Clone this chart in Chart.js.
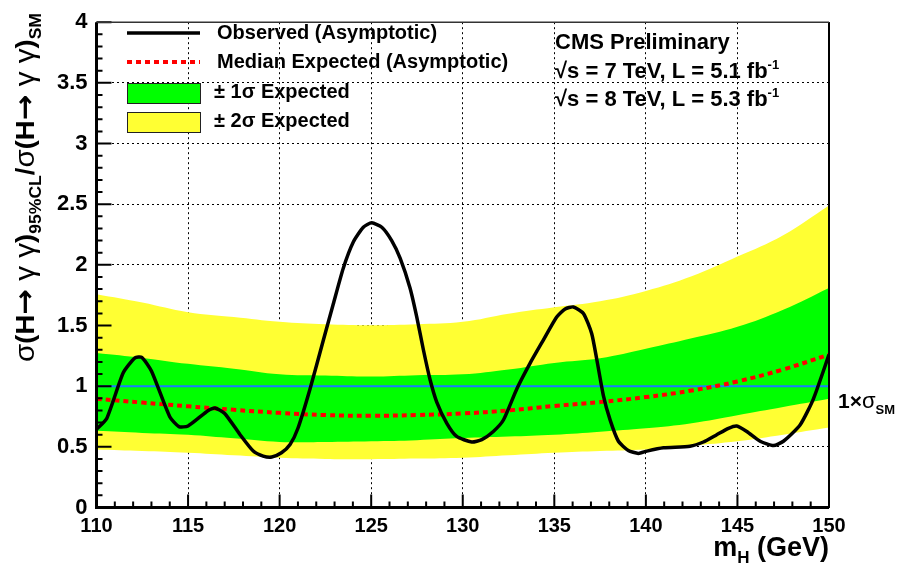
<!DOCTYPE html>
<html>
<head>
<meta charset="utf-8">
<script src="https://cdn.jsdelivr.net/npm/chart.js@4.4.1/dist/chart.umd.min.js"></script>
<style>
  body { margin: 0; background: #fff; }
  canvas { display: block; }
</style>
</head>
<body>
<canvas id="limitChart" width="901" height="564"></canvas>
<script>
// observed limit
const observedMass = [110.0, 110.56, 111.46, 112.1, 112.47, 113.0, 114.0, 114.5, 115.0, 116.1, 116.47, 117.0, 117.84, 118.56, 119.1, 119.57, 120.1, 120.57, 121.0, 121.66, 122.39, 122.93, 123.48, 124.03, 124.57, 125.03, 125.58, 126.12, 126.58, 127.12, 127.49, 127.85, 128.21, 128.58, 129.13, 129.67, 130.49, 131.04, 131.67, 132.22, 132.95, 133.68, 134.4, 135.13, 135.59, 136.04, 136.59, 137.04, 137.32, 137.68, 138.05, 138.5, 139.04, 139.59, 140.05, 140.96, 142.41, 143.14, 143.87, 144.51, 144.96, 145.51, 146.24, 146.97, 147.51, 148.42, 149.15, 150.0];
const observedLimit = [0.645, 0.734, 1.11, 1.233, 1.238, 1.125, 0.748, 0.667, 0.672, 0.80, 0.82, 0.775, 0.60, 0.465, 0.424, 0.416, 0.451, 0.519, 0.653, 0.977, 1.38, 1.677, 1.974, 2.19, 2.31, 2.346, 2.31, 2.20, 2.055, 1.81, 1.57, 1.30, 1.057, 0.869, 0.694, 0.586, 0.54, 0.56, 0.627, 0.721, 0.977, 1.19, 1.38, 1.57, 1.637, 1.653, 1.60, 1.435, 1.22, 0.923, 0.72, 0.546, 0.47, 0.446, 0.465, 0.492, 0.505, 0.54, 0.60, 0.653, 0.672, 0.627, 0.546, 0.51, 0.546, 0.68, 0.896, 1.26];

// expected limit and bands
const expMass = [110, 112.5, 115, 117.5, 120, 122.5, 125, 127.5, 130, 132.5, 135, 137.5, 140, 142.5, 145, 147.5, 150];
const expMedian = [0.896, 0.865, 0.834, 0.805, 0.78, 0.762, 0.756, 0.762, 0.775, 0.80, 0.837, 0.869, 0.91, 0.964, 1.039, 1.138, 1.26];
const oneSigmaHi = [1.273, 1.233, 1.184, 1.144, 1.098, 1.087, 1.079, 1.09, 1.098, 1.138, 1.192, 1.23, 1.308, 1.394, 1.489, 1.63, 1.81];
const oneSigmaLo = [0.632, 0.615, 0.60, 0.57, 0.54, 0.54, 0.546, 0.555, 0.572, 0.585, 0.60, 0.625, 0.653, 0.695, 0.761, 0.828, 0.896];
const twoSigmaHi = [1.758, 1.69, 1.61, 1.57, 1.53, 1.51, 1.502, 1.51, 1.53, 1.597, 1.65, 1.70, 1.785, 1.906, 2.068, 2.245, 2.49];
const twoSigmaLo = [0.478, 0.465, 0.451, 0.43, 0.41, 0.40, 0.398, 0.403, 0.41, 0.43, 0.451, 0.465, 0.478, 0.51, 0.546, 0.60, 0.659];

// SM reference line
const smMass = [110, 150];
const smValue = [1, 1];

const FAM = "'Liberation Sans', Arial, Helvetica, sans-serif";

function pts(xs, ys) {
  return xs.map((x, i) => ({ x: x, y: ys[i] }));
}

function partsWidth(ctx, parts) {
  let total = 0;
  parts.forEach(p => { ctx.font = p[1]; total += ctx.measureText(p[0]).width; });
  return total;
}

// draw a run of text pieces [text, font, dy]
function drawParts(ctx, parts, x, y, align) {
  const total = partsWidth(ctx, parts);
  let cx = align === 'right' ? x - total : x;
  parts.forEach(p => {
    ctx.font = p[1];
    ctx.fillText(p[0], cx, y + (p[2] || 0));
    cx += ctx.measureText(p[0]).width;
  });
  return total;
}

const decorations = {
  id: 'decorations',
  afterDraw(chart) {
    const ctx = chart.ctx;
    const area = chart.chartArea;
    const xs = chart.scales.x, ys = chart.scales.y;
    ctx.save();

    // inward ticks
    ctx.strokeStyle = '#000';
    ctx.lineWidth = 2;
    ctx.beginPath();
    for (let m = 110; m <= 150; m++) {
      const px = xs.getPixelForValue(m);
      const len = m % 5 === 0 ? 13 : 6;
      ctx.moveTo(px, area.bottom);
      ctx.lineTo(px, area.bottom - len);
    }
    for (let k = 0; k <= 40; k++) {
      const py = ys.getPixelForValue(k / 10);
      const len = k % 5 === 0 ? 15 : 6;
      ctx.moveTo(area.left, py);
      ctx.lineTo(area.left + len, py);
    }
    ctx.stroke();

    // frame
    ctx.lineWidth = 3;
    ctx.beginPath();
    ctx.moveTo(area.left, area.top);
    ctx.lineTo(area.left, area.bottom);
    ctx.lineTo(area.right, area.bottom);
    ctx.stroke();
    ctx.lineWidth = 2;
    ctx.beginPath();
    ctx.moveTo(area.right, area.bottom);
    ctx.lineTo(area.right, area.top);
    ctx.stroke();
    ctx.lineWidth = 1.5;
    ctx.strokeStyle = '#333';
    ctx.beginPath();
    ctx.moveTo(area.left, area.top);
    ctx.lineTo(area.right, area.top);
    ctx.stroke();

    // legend
    ctx.strokeStyle = '#000';
    ctx.lineWidth = 3.5;
    ctx.beginPath();
    ctx.moveTo(127, 33);
    ctx.lineTo(200, 33);
    ctx.stroke();
    ctx.strokeStyle = '#ff0000';
    ctx.lineWidth = 4;
    ctx.setLineDash([5, 4]);
    ctx.beginPath();
    ctx.moveTo(127, 62);
    ctx.lineTo(200, 62);
    ctx.stroke();
    ctx.setLineDash([]);
    ctx.lineWidth = 1;
    ctx.strokeStyle = '#222';
    ctx.fillStyle = '#00ff00';
    ctx.fillRect(127, 83, 73, 20);
    ctx.strokeRect(127.5, 83.5, 73, 20);
    ctx.fillStyle = '#ffff33';
    ctx.fillRect(127, 112, 73, 20);
    ctx.strokeRect(127.5, 112.5, 73, 20);

    ctx.fillStyle = '#000';
    ctx.textBaseline = 'middle';
    ctx.font = 'bold 20px ' + FAM;
    ctx.fillText('Observed (Asymptotic)', 217, 33);
    ctx.fillText('Median Expected (Asymptotic)', 217, 62);
    ctx.fillText('\u00b1 1\u03c3 Expected', 214, 92);
    ctx.fillText('\u00b1 2\u03c3 Expected', 214, 121);

    // CMS label
    ctx.textBaseline = 'alphabetic';
    const big = 'bold 22px ' + FAM, sup = 'bold 13px ' + FAM;
    ctx.font = big;
    ctx.fillText('CMS Preliminary', 555, 49);
    drawParts(ctx, [['\u221as = 7 TeV, L = 5.1 fb', big], ['-1', sup, -9]], 555, 78);
    drawParts(ctx, [['\u221as = 8 TeV, L = 5.3 fb', big], ['-1', sup, -9]], 555, 106);

    // SM marker on the right
    drawParts(ctx, [['1\u00d7', 'bold 21px ' + FAM], ['\u03c3', '22px ' + FAM], ['SM', 'bold 13px ' + FAM, 6]], 838, 408);

    // x title
    drawParts(ctx, [['m', 'bold 27px ' + FAM], ['H', 'bold 17px ' + FAM, 7], [' (GeV)', 'bold 27px ' + FAM]], 829, 556, 'right');

    // y title, rotated and stretched along its length to span the axis
    const mf = 'bold 25px ' + FAM, gf = '27px ' + FAM, sf = 'bold 16px ' + FAM;
    const af = "bold 28px 'DejaVu Sans', sans-serif";
    const yParts = [
      ['\u03c3', gf], ['(H', mf], ['\u2192', af], [' \u03b3 \u03b3', gf], [')', mf], ['95%CL', sf, 7],
      ['/', mf], ['\u03c3', gf], ['(H', mf], ['\u2192', af], [' \u03b3 \u03b3', gf], [')', mf], ['SM', sf, 7]
    ];
    const span = 362 - 13;
    const stretch = span / partsWidth(ctx, yParts);
    ctx.translate(34, 13);
    ctx.rotate(-Math.PI / 2);
    ctx.scale(stretch, 1);
    drawParts(ctx, yParts, 0, 0, 'right');
    ctx.restore();
  }
};

const limitData = {
  datasets: [
    {
      label: 'Observed (Asymptotic)',
      data: pts(observedMass, observedLimit),
      borderColor: '#000',
      borderWidth: 3.5,
      borderJoinStyle: 'round',
      tension: 0.2,
      fill: false,
      order: 0
    },
    {
      label: 'Median Expected (Asymptotic)',
      data: pts(expMass, expMedian),
      borderColor: '#ff0000',
      borderWidth: 4,
      borderDash: [5, 4],
      tension: 0.4,
      fill: false,
      order: 1
    },
    {
      label: 'SM',
      data: pts(smMass, smValue),
      borderColor: '#1a7cff',
      borderWidth: 2,
      fill: false,
      order: 2
    },
    {
      label: '\u00b1 1\u03c3 Expected',
      data: pts(expMass, oneSigmaHi),
      borderWidth: 0,
      borderColor: 'rgba(0,0,0,0)',
      backgroundColor: '#00ff00',
      tension: 0.4,
      fill: '+1',
      order: 3
    },
    {
      label: '1 sigma low',
      data: pts(expMass, oneSigmaLo),
      borderWidth: 0,
      borderColor: 'rgba(0,0,0,0)',
      tension: 0.4,
      fill: false,
      order: 4
    },
    {
      label: '\u00b1 2\u03c3 Expected',
      data: pts(expMass, twoSigmaHi),
      borderWidth: 0,
      borderColor: 'rgba(0,0,0,0)',
      backgroundColor: '#ffff33',
      tension: 0.4,
      fill: '+1',
      order: 5
    },
    {
      label: '2 sigma low',
      data: pts(expMass, twoSigmaLo),
      borderWidth: 0,
      borderColor: 'rgba(0,0,0,0)',
      tension: 0.4,
      fill: false,
      order: 6
    }
  ]
};

const gridColor = (ctx) => (ctx.tick && ctx.tick.value === 1) ? 'rgba(0,0,0,0)' : '#000';

const limitConfig = {
  type: 'line',
  data: limitData,
  options: {
    responsive: false,
    animation: false,
    layout: { padding: { top: 13, right: 72, bottom: 0, left: 0 } },
    elements: { point: { radius: 0 } },
    plugins: {
      legend: { display: false },
      tooltip: { enabled: false }
    },
    scales: {
      x: {
        type: 'linear',
        min: 110,
        max: 150,
        z: 1,
        afterFit: (s) => { s.height = 56.5; },
        ticks: {
          stepSize: 5,
          color: '#000',
          padding: 7,
          maxRotation: 0,
          font: { family: FAM, size: 20, weight: 'bold' }
        },
        grid: { color: '#000', lineWidth: 1, drawTicks: false },
        border: { display: false, dash: [2, 3] }
      },
      y: {
        min: 0,
        max: 4,
        z: 1,
        afterFit: (s) => { s.width = 96.5; },
        ticks: {
          stepSize: 0.5,
          color: '#000',
          padding: 9,
          font: { family: FAM, size: 22, weight: 'bold' },
          callback: (v) => String(Number(v))
        },
        grid: { color: gridColor, lineWidth: 1, drawTicks: false },
        border: { display: false, dash: [2, 3] }
      }
    }
  },
  plugins: [decorations]
};

const limitChart = new Chart(document.getElementById('limitChart'), limitConfig);
</script>
</body>
</html>
